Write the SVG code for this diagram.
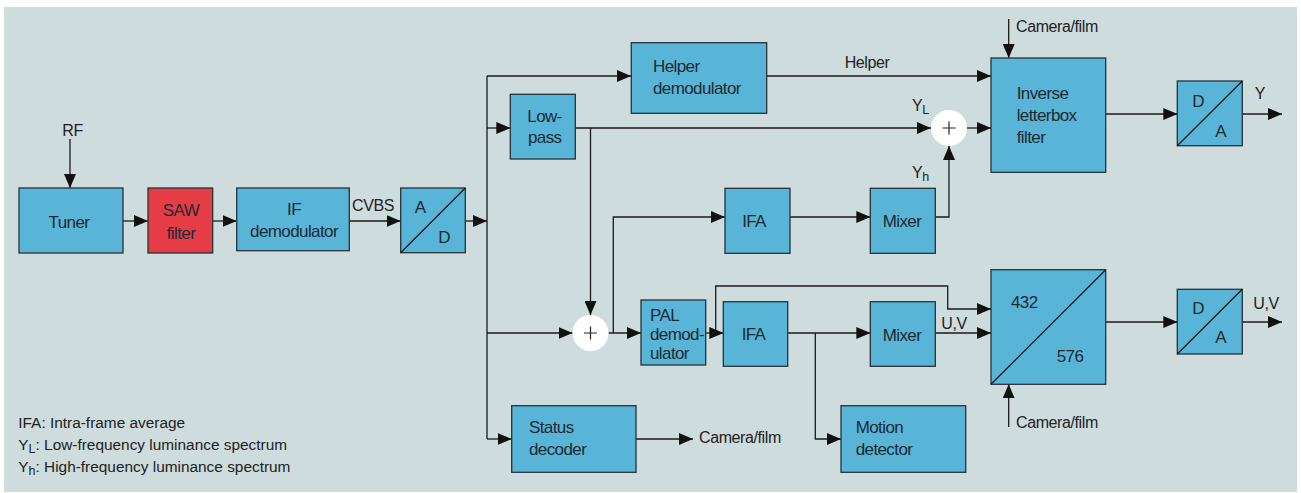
<svg xmlns="http://www.w3.org/2000/svg" width="1301" height="493" viewBox="0 0 1301 493">
<style>
.bg{fill:#cedcdd}
.box{fill:#58b5d7;stroke:#26323a;stroke-width:1.3}
.saw{fill:#e63c46}
.diag{stroke:#1a1a1a;stroke-width:1.3;fill:none}
.t{font-family:"Liberation Sans",Arial,sans-serif;font-size:17px;letter-spacing:-0.6px;fill:#1c2a32}
.m{text-anchor:middle}
.lb{font-family:"Liberation Sans",Arial,sans-serif;font-size:16px;letter-spacing:-0.4px;fill:#222}
.lg{font-family:"Liberation Sans",Arial,sans-serif;font-size:15.4px;fill:#222}
.sub{font-size:12.5px}
.c{stroke:#1a1a1a;stroke-width:1.3;fill:none}
.a{marker-end:url(#ah)}
.sum{fill:#ffffff}
.plus{stroke:#222;stroke-width:1.2}
</style>
<defs>
<marker id="ah" markerUnits="userSpaceOnUse" viewBox="0 0 14 12" refX="14" refY="6" markerWidth="14" markerHeight="12" orient="auto">
<path d="M0,0 L14,6 L0,12 z" fill="#111"/>
</marker>
</defs>
<rect class="bg" x="4" y="7" width="1293" height="485"/>

<g id="connectors">
<path class="c a" d="M70,139 V188"/>
<path class="c a" d="M123,221 H148"/>
<path class="c a" d="M212.7,221 H236.7"/>
<path class="c a" d="M349.3,221 H400.7"/>
<path class="c a" d="M465.3,221 H487"/>
<path class="c" d="M487,76 V439"/>
<path class="c a" d="M487,76 H631"/>
<path class="c a" d="M487,128 H510.3"/>
<path class="c a" d="M487,333 H572.5"/>
<path class="c a" d="M487,439 H511.7"/>
<path class="c a" d="M766.7,76 H991"/>
<path class="c a" d="M575.3,128 H931"/>
<path class="c a" d="M590.5,128 V315"/>
<path class="c a" d="M967,128 H991"/>
<path class="c a" d="M935.3,217 H949 V146"/>
<path class="c a" d="M790,217 H870.3"/>
<path class="c a" d="M608.5,333 H641"/>
<path class="c a" d="M613.3,333 V217 H725"/>
<path class="c a" d="M705.7,333 H723.3"/>
<path class="c a" d="M715.7,333 V286 H947.7 V309 H991"/>
<path class="c a" d="M787.7,333 H870.3"/>
<path class="c a" d="M815.3,333 V439 H841"/>
<path class="c a" d="M935.3,333 H991"/>
<path class="c a" d="M1105.7,114 H1177.3"/>
<path class="c a" d="M1242.3,114 H1282"/>
<path class="c a" d="M1105.7,322 H1177.3"/>
<path class="c a" d="M1242.3,322 H1282"/>
<path class="c a" d="M1008.7,19 V58"/>
<path class="c a" d="M1008.7,427 V384.3"/>
<path class="c a" d="M636,439 H693"/>
</g>

<g id="rf-label"><text class="lb m" x="72.5" y="136">RF</text></g>

<g id="tuner">
<rect class="box" x="19" y="188" width="104" height="65"/>
<text class="t m" x="69" y="228">Tuner</text>
</g>

<g id="saw-filter">
<rect class="box saw" x="148" y="188" width="64.7" height="65"/>
<text class="t m" x="181" y="216">SAW</text>
<text class="t m" x="181" y="239">filter</text>
</g>

<g id="if-demodulator">
<rect class="box" x="236.7" y="188" width="112.6" height="62.7"/>
<text class="t m" x="294" y="215">IF</text>
<text class="t m" x="294" y="237">demodulator</text>
</g>

<g id="cvbs-label"><text class="lb m" x="373" y="211">CVBS</text></g>

<g id="ad-converter">
<rect class="box" x="400.7" y="188" width="64.6" height="64.7"/>
<path class="diag" d="M400.7,252.7 L465.3,188"/>
<text class="t m" x="420" y="213">A</text>
<text class="t m" x="444" y="243">D</text>
</g>

<g id="helper-demodulator">
<rect class="box" x="631.3" y="42.7" width="135.4" height="70.6"/>
<text class="t" x="653" y="72">Helper</text>
<text class="t" x="653" y="94">demodulator</text>
</g>

<g id="helper-label"><text class="lb m" x="867" y="68">Helper</text></g>

<g id="low-pass">
<rect class="box" x="510.3" y="94.3" width="65" height="64.7"/>
<text class="t" x="527.3" y="122.3">Low-</text>
<text class="t" x="528" y="143">pass</text>
</g>

<g id="sum-upper">
<circle class="sum" cx="949" cy="128" r="18"/>
<path class="plus" d="M942.5,128 H955.5 M949,121.5 V134.5"/>
</g>

<g id="yl-label"><text class="lb" x="912" y="110.5">Y<tspan class="sub" dy="3">L</tspan></text></g>
<g id="yh-label"><text class="lb" x="912" y="177.5">Y<tspan class="sub" dy="3">h</tspan></text></g>

<g id="ifa-upper">
<rect class="box" x="725" y="188.3" width="65" height="65"/>
<text class="t m" x="754" y="227">IFA</text>
</g>

<g id="mixer-upper">
<rect class="box" x="870.3" y="188.3" width="65" height="65"/>
<text class="t m" x="902" y="227.3">Mixer</text>
</g>

<g id="camera-film-top"><text class="lb" x="1016" y="32">Camera/film</text></g>

<g id="inverse-letterbox-filter">
<rect class="box" x="991" y="58" width="114.7" height="114.3"/>
<text class="t" x="1016.7" y="99">Inverse</text>
<text class="t" x="1016.7" y="121">letterbox</text>
<text class="t" x="1016.7" y="143">filter</text>
</g>

<g id="da-upper">
<rect class="box" x="1177.3" y="81" width="65" height="64.7"/>
<path class="diag" d="M1177.3,145.7 L1242.3,81"/>
<text class="t m" x="1198" y="106.7">D</text>
<text class="t m" x="1220.5" y="136.7">A</text>
</g>

<g id="y-label"><text class="lb m" x="1260" y="99.3">Y</text></g>

<g id="sum-lower">
<circle class="sum" cx="590.5" cy="333" r="18"/>
<path class="plus" d="M584,333 H597 M590.5,326.5 V339.5"/>
</g>

<g id="pal-demodulator">
<rect class="box" x="641" y="300" width="64.7" height="65"/>
<text class="t" x="650" y="321">PAL</text>
<text class="t" x="650" y="340">demod-</text>
<text class="t" x="650" y="358.5">ulator</text>
</g>

<g id="ifa-lower">
<rect class="box" x="723.3" y="301.7" width="64.4" height="64.6"/>
<text class="t m" x="753.5" y="340">IFA</text>
</g>

<g id="mixer-lower">
<rect class="box" x="870.3" y="301.7" width="65" height="64.6"/>
<text class="t m" x="902" y="341">Mixer</text>
</g>

<g id="uv-label-mid"><text class="lb m" x="954" y="328.5">U,V</text></g>

<g id="scan-converter">
<rect class="box" x="991" y="269.7" width="114.7" height="114.6"/>
<path class="diag" d="M991,384.3 L1105.7,269.7"/>
<text class="t" x="1011" y="307.7">432</text>
<text class="t" x="1056.7" y="361.7">576</text>
</g>

<g id="camera-film-bottom"><text class="lb" x="1016" y="428.3">Camera/film</text></g>

<g id="da-lower">
<rect class="box" x="1177.3" y="289.3" width="65" height="64.7"/>
<path class="diag" d="M1177.3,354 L1242.3,289.3"/>
<text class="t m" x="1198" y="314.3">D</text>
<text class="t m" x="1220.5" y="343.3">A</text>
</g>

<g id="uv-label-out"><text class="lb m" x="1266" y="309.3">U,V</text></g>

<g id="status-decoder">
<rect class="box" x="511.7" y="405.7" width="124.3" height="66.6"/>
<text class="t" x="529" y="432.7">Status</text>
<text class="t" x="529" y="455">decoder</text>
</g>

<g id="camera-film-status"><text class="lb" x="699" y="443.3">Camera/film</text></g>

<g id="motion-detector">
<rect class="box" x="841" y="405.7" width="124.7" height="66.6"/>
<text class="t" x="855.7" y="433.3">Motion</text>
<text class="t" x="855.7" y="455">detector</text>
</g>

<g id="legend">
<text class="lg" x="18.3" y="427.5">IFA: Intra-frame average</text>
<text class="lg" x="18.3" y="449.5">Y<tspan class="sub" dy="3">L</tspan><tspan dy="-3">: Low-frequency luminance spectrum</tspan></text>
<text class="lg" x="18.3" y="471.5">Y<tspan class="sub" dy="3">h</tspan><tspan dy="-3">: High-frequency luminance spectrum</tspan></text>
</g>
</svg>
